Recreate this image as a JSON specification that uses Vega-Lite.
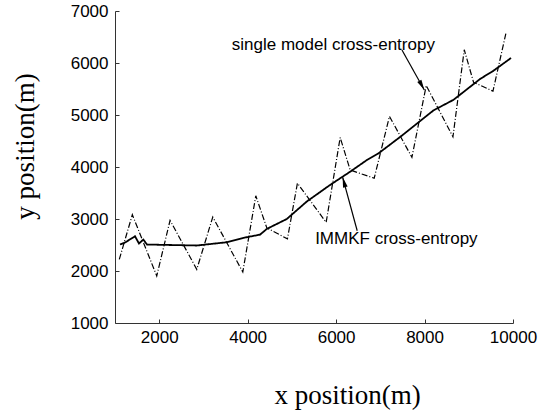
{
  "$schema": "https://vega.github.io/schema/vega-lite/v6.json",
  "autosize": {"type": "none"},
  "padding": {"left": 115, "top": 11, "right": 33, "bottom": 90},
  "width": 398,
  "height": 312,
  "background": "white",
  "config": {"view": {"stroke": null}},
  "datasets": {
    "lines": [
      {"series": "single model cross-entropy", "x": 1097, "y": 2223},
      {"series": "single model cross-entropy", "x": 1392, "y": 3083},
      {"series": "single model cross-entropy", "x": 1944, "y": 1904},
      {"series": "single model cross-entropy", "x": 2245, "y": 2974},
      {"series": "single model cross-entropy", "x": 2849, "y": 2031},
      {"series": "single model cross-entropy", "x": 3211, "y": 3038},
      {"series": "single model cross-entropy", "x": 3890, "y": 1980},
      {"series": "single model cross-entropy", "x": 4184, "y": 3446},
      {"series": "single model cross-entropy", "x": 4433, "y": 2828},
      {"series": "single model cross-entropy", "x": 4899, "y": 2618},
      {"series": "single model cross-entropy", "x": 5125, "y": 3688},
      {"series": "single model cross-entropy", "x": 5775, "y": 2935},
      {"series": "single model cross-entropy", "x": 6092, "y": 4567},
      {"series": "single model cross-entropy", "x": 6318, "y": 3942},
      {"series": "single model cross-entropy", "x": 6861, "y": 3784},
      {"series": "single model cross-entropy", "x": 7207, "y": 4974},
      {"series": "single model cross-entropy", "x": 7714, "y": 4185},
      {"series": "single model cross-entropy", "x": 8038, "y": 5567},
      {"series": "single model cross-entropy", "x": 8642, "y": 4579},
      {"series": "single model cross-entropy", "x": 8898, "y": 6255},
      {"series": "single model cross-entropy", "x": 9108, "y": 5630},
      {"series": "single model cross-entropy", "x": 9547, "y": 5458},
      {"series": "single model cross-entropy", "x": 9848, "y": 6604},
      {"series": "IMMKF cross-entropy", "x": 1113, "y": 2509},
      {"series": "IMMKF cross-entropy", "x": 1226, "y": 2547},
      {"series": "IMMKF cross-entropy", "x": 1453, "y": 2668},
      {"series": "IMMKF cross-entropy", "x": 1543, "y": 2528},
      {"series": "IMMKF cross-entropy", "x": 1640, "y": 2605},
      {"series": "IMMKF cross-entropy", "x": 1724, "y": 2509},
      {"series": "IMMKF cross-entropy", "x": 2849, "y": 2490},
      {"series": "IMMKF cross-entropy", "x": 3528, "y": 2553},
      {"series": "IMMKF cross-entropy", "x": 3903, "y": 2637},
      {"series": "IMMKF cross-entropy", "x": 4281, "y": 2700},
      {"series": "IMMKF cross-entropy", "x": 4433, "y": 2809},
      {"series": "IMMKF cross-entropy", "x": 4885, "y": 3000},
      {"series": "IMMKF cross-entropy", "x": 5338, "y": 3337},
      {"series": "IMMKF cross-entropy", "x": 5866, "y": 3656},
      {"series": "IMMKF cross-entropy", "x": 6318, "y": 3910},
      {"series": "IMMKF cross-entropy", "x": 6696, "y": 4134},
      {"series": "IMMKF cross-entropy", "x": 6958, "y": 4262},
      {"series": "IMMKF cross-entropy", "x": 7450, "y": 4579},
      {"series": "IMMKF cross-entropy", "x": 7828, "y": 4835},
      {"series": "IMMKF cross-entropy", "x": 8203, "y": 5089},
      {"series": "IMMKF cross-entropy", "x": 8656, "y": 5293},
      {"series": "IMMKF cross-entropy", "x": 9260, "y": 5695},
      {"series": "IMMKF cross-entropy", "x": 9561, "y": 5853},
      {"series": "IMMKF cross-entropy", "x": 9955, "y": 6096}
    ],
    "arrows": [
      {"label": "single model cross-entropy", "x": 7489, "y": 6251, "x2": 7994, "y2": 5482, "tx": 3640, "ty": 6251},
      {"label": "IMMKF cross-entropy", "x": 6477, "y": 2774, "x2": 6148, "y2": 3802, "tx": 5526, "ty": 2518}
    ],
    "head1": [{"x": 7939, "y": 5567}],
    "head2": [{"x": 6178, "y": 3709}]
  },
  "layer": [
    {
      "data": {"name": "lines"},
      "mark": {"type": "line", "clip": true},
      "encoding": {
        "x": {
          "field": "x", "type": "quantitative",
          "scale": {"domain": [1000, 10000], "nice": false, "zero": false},
          "axis": {
            "values": [2000, 4000, 6000, 8000, 10000],
            "grid": false,
            "title": "x position(m)",
            "titleFont": "Liberation Serif", "titleFontSize": 27, "titleFontWeight": "normal", "titleColor": "black",
            "titleX": 232, "titleY": 80, "titleAlign": "center", "titleBaseline": "alphabetic",
            "labelFont": "Liberation Sans", "labelFontSize": 17, "labelColor": "black",
            "tickSize": -4, "labelPadding": 10, "domainColor": "#333", "tickColor": "#333",
            "labelFlush": false, "labelOverlap": false, "format": "d"
          }
        },
        "y": {
          "field": "y", "type": "quantitative",
          "scale": {"domain": [1000, 7000], "nice": false, "zero": false},
          "axis": {
            "values": [1000, 2000, 3000, 4000, 5000, 6000, 7000],
            "grid": false,
            "title": "y position(m)",
            "titleFont": "Liberation Serif", "titleFontSize": 27, "titleFontWeight": "normal", "titleColor": "black",
            "titleX": -82, "titleY": 135, "titleAngle": -90, "titleAlign": "center", "titleBaseline": "alphabetic",
            "labelFont": "Liberation Sans", "labelFontSize": 17, "labelColor": "black",
            "tickSize": -4, "labelPadding": 11, "domainColor": "#333", "tickColor": "#333",
            "labelFlush": false, "labelOverlap": false, "format": "d"
          }
        },
        "strokeDash": {
          "field": "series", "type": "nominal",
          "scale": {"domain": ["single model cross-entropy", "IMMKF cross-entropy"], "range": [[6, 2, 1, 2], [1, 0]]},
          "legend": null
        },
        "strokeWidth": {
          "field": "series", "type": "nominal",
          "scale": {"domain": ["single model cross-entropy", "IMMKF cross-entropy"], "range": [1.2, 1.8]},
          "legend": null
        },
        "color": {"value": "black"}
      }
    },
    {
      "data": {"name": "arrows"},
      "mark": {"type": "rule", "color": "black", "strokeWidth": 1.2},
      "encoding": {
        "x": {"field": "x", "type": "quantitative"},
        "y": {"field": "y", "type": "quantitative"},
        "x2": {"field": "x2"},
        "y2": {"field": "y2"}
      }
    },
    {
      "data": {"name": "arrows"},
      "mark": {"type": "text", "font": "Liberation Sans", "fontSize": 17, "align": "left", "baseline": "alphabetic", "color": "black"},
      "encoding": {
        "x": {"field": "tx", "type": "quantitative"},
        "y": {"field": "ty", "type": "quantitative"},
        "text": {"field": "label"}
      }
    },
    {
      "data": {"name": "head1"},
      "mark": {"type": "point", "shape": "M0,-1L0.45,1L-0.45,1Z", "filled": true, "color": "black", "opacity": 1, "size": 110, "angle": 151},
      "encoding": {
        "x": {"field": "x", "type": "quantitative"},
        "y": {"field": "y", "type": "quantitative"}
      }
    },
    {
      "data": {"name": "head2"},
      "mark": {"type": "point", "shape": "M0,-1L0.45,1L-0.45,1Z", "filled": true, "color": "black", "opacity": 1, "size": 110, "angle": 345},
      "encoding": {
        "x": {"field": "x", "type": "quantitative"},
        "y": {"field": "y", "type": "quantitative"}
      }
    }
  ]
}
